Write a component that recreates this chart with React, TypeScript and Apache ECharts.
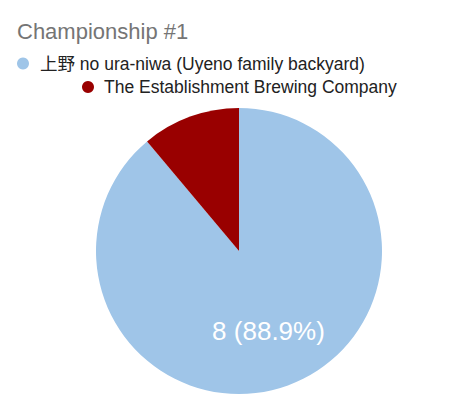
import React, { useEffect, useRef } from "react";
import * as echarts from "echarts";

const titleText = "Championship #1";
const categories = ["上野 no ura-niwa (Uyeno family backyard)", "The Establishment Brewing Company"];
const values = [8, 1];
const colors = ["#9fc5e8", "#990000"];

const FONT = "'Liberation Sans', Arial, 'Noto Sans CJK JP', sans-serif";

export default function App() {
  const ref = useRef<HTMLDivElement>(null);
  useEffect(() => {
    if (!ref.current) return;
    const chart = echarts.init(ref.current, undefined, { renderer: "svg" });
    const total = values.reduce((a, b) => a + b, 0);
    const legendText = { fontFamily: FONT, fontSize: 17.5, lineHeight: 18, color: "#222222" };
    chart.setOption({
      animation: false,
      title: {
        text: titleText,
        left: 9,
        top: 12,
        padding: 0,
        textStyle: { fontFamily: FONT, fontSize: 22, fontWeight: "normal", color: "#757575" },
      },
      legend: [
        {
          data: [categories[0]],
          left: 9,
          top: 46.5,
          padding: 0,
          icon: "circle",
          itemWidth: 12,
          itemHeight: 12,
          textStyle: { ...legendText, padding: [0, 0, 0, 6] },
        },
        {
          data: [categories[1]],
          left: 74,
          top: 70,
          padding: 0,
          icon: "circle",
          itemWidth: 12,
          itemHeight: 12,
          textStyle: { ...legendText, padding: [0, 0, 0, 5] },
        },
      ],
      series: [
        {
          type: "pie",
          center: [231, 243],
          radius: [0, 143],
          startAngle: 90,
          clockwise: true,
          data: categories.map((c, i) => ({
            name: c,
            value: values[i],
            itemStyle: { color: colors[i] },
            label: { show: values[i] / total > 0.15 },
          })),
          label: {
            position: "inside",
            fontFamily: FONT,
            fontSize: 26,
            color: "#ffffff",
            offset: [4, 10],
            formatter: (p: any) => `${p.value} (${(p.percent as number).toFixed(1)}%)`,
          },
          labelLine: { show: false },
          emphasis: { disabled: true },
        },
      ],
    });
    return () => chart.dispose();
  }, []);
  return <div ref={ref} style={{ width: 439, height: 397 }} />;
}
